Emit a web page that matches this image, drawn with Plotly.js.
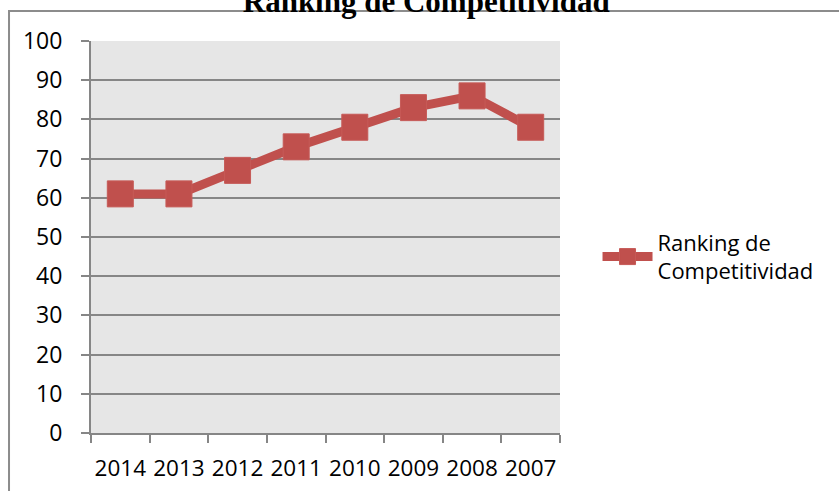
<!DOCTYPE html>
<html>
<head>
<meta charset="utf-8">
<script src="https://cdn.plot.ly/plotly-3.0.1.min.js"></script>
<style>html,body{margin:0;padding:0;background:#fff;}#chart{width:839px;height:491px;}</style>
</head>
<body>
<div id="chart"></div>
<script>
const years = ["2014", "2013", "2012", "2011", "2010", "2009", "2008", "2007"];
const ranking = [61, 61, 67, 73, 78, 83, 86, 78];
const seriesName = "Ranking de<br>Competitividad";
const chartTitle = "Ranking de Competitividad";
const yTicks = [0, 10, 20, 30, 40, 50, 60, 70, 80, 90, 100];

const font = "Open Sans, Noto Sans, sans-serif";
const gray = "#868686";

const trace = {
  x: years,
  y: ranking,
  type: "scatter",
  mode: "lines+markers",
  name: seriesName,
  line: {color: "#c0504d", width: 9},
  marker: {symbol: "square", size: 26, color: "#c0504d", line: {color: "#c65a57", width: 1}}
};

const layout = {
  width: 839,
  height: 491,
  margin: {l: 91, r: 279, t: 41, b: 58},
  paper_bgcolor: "#ffffff",
  plot_bgcolor: "#e6e6e6",
  title: {
    text: "<b>" + chartTitle + "</b>",
    font: {family: "Liberation Serif, Times New Roman, serif", size: 31, color: "#000"},
    xref: "container", x: 0.508, xanchor: "center",
    yref: "container", y: 0.998, yanchor: "middle"
  },
  xaxis: {
    type: "category",
    range: [-0.5, 7.5],
    tickson: "boundaries",
    ticks: "outside",
    ticklen: 8,
    tickwidth: 2,
    tickcolor: gray,
    showline: true,
    linecolor: gray,
    linewidth: 2,
    showgrid: false,
    zeroline: false,
    tickangle: 0,
    tickfont: {family: font, size: 22.5, color: "#000"},
    ticklabelstandoff: 14,
    fixedrange: true
  },
  yaxis: {
    range: [0, 100],
    tickvals: yTicks,
    ticks: "outside",
    ticklen: 8,
    tickwidth: 2,
    tickcolor: gray,
    showline: true,
    linecolor: gray,
    linewidth: 2,
    showgrid: true,
    gridcolor: gray,
    gridwidth: 2,
    zeroline: false,
    tickfont: {family: font, size: 23, color: "#000"},
    ticklabelstandoff: 14,
    fixedrange: true
  },
  showlegend: true,
  legend: {
    x: 1.08, xanchor: "left",
    y: 0.449, yanchor: "middle",
    itemwidth: 50,
    font: {family: font, size: 22, color: "#000"},
    bgcolor: "rgba(0,0,0,0)"
  },
  shapes: [{
    type: "rect", xref: "paper", yref: "paper",
    x0: -0.1748, x1: 1.62, y0: -0.2, y1: 1.0765,
    line: {color: "#8c8c8c", width: 2},
    fillcolor: "rgba(0,0,0,0)",
    layer: "below"
  }]
};

Plotly.newPlot("chart", [trace], layout, {displayModeBar: false, staticPlot: true});
</script>
</body>
</html>
